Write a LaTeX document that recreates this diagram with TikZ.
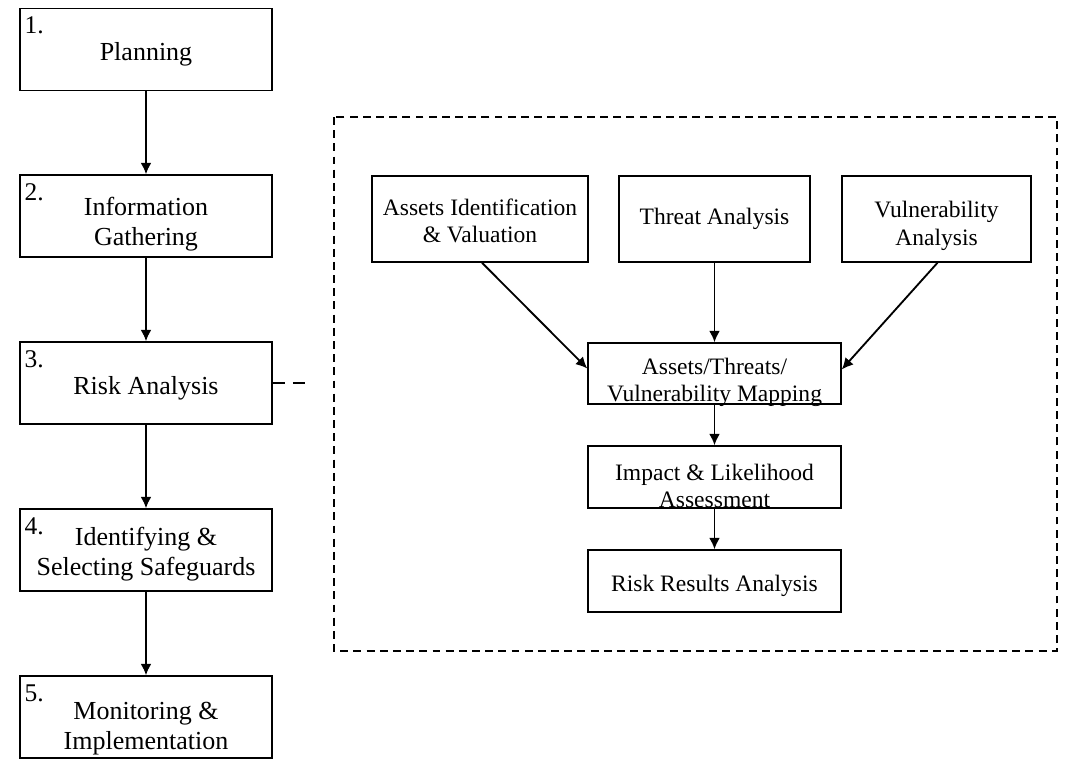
\documentclass[tikz,border=0pt]{standalone}
\usepackage{fontspec}
\setmainfont{Liberation Serif}
\usetikzlibrary{arrows.meta}

\newcommand{\sink}[1]{\rule{0pt}{#1}}

\tikzset{
  stage/.style={draw, line width=0.85pt, minimum width=5.04cm, minimum height=1.64cm,
    inner sep=0pt, align=center, font=\fontsize{14.8}{17}\selectfont},
  task/.style={draw, line width=0.85pt, inner sep=0pt, align=center,
    font=\fontsize{13.4}{15.4}\selectfont},
  tasktext/.style={inner sep=0pt, align=center, yshift=-0.18cm,
    font=\fontsize{13.4}{15.4}\selectfont},
  stepnum/.style={anchor=north west, inner sep=0pt, font=\fontsize{14.5}{16}\selectfont},
  flow/.style={line width=1.05pt, -{Latex[length=2.3mm,width=2.2mm]}},
}

\begin{document}
\begin{tikzpicture}[x=0.02cm, y=-0.02cm]
  \useasboundingbox (0,0) rectangle (1077,771);

  % stages on the left
  \node[stage] (plan) at (146,49.5) {\sink{15.8pt}Planning};
  \node[stage] (info) at (146,216) {\sink{19.2pt}Information\\Gathering};
  \node[stage] (risk) at (146,383) {\sink{15.8pt}Risk Analysis};
  \node[stage] (safe) at (146,550) {\sink{15.2pt}Identifying \&\\Selecting Safeguards};
  \node[stage] (moni) at (146,717) {\sink{23.4pt}Monitoring \&\\Implementation};
  \foreach \s/\n in {plan/1, info/2, risk/3, safe/4, moni/5}
    \node[stepnum] at ([xshift=0.1cm,yshift=-0.18cm]\s.north west) {\n.};
  \draw[flow] (plan) -- (info);
  \draw[flow] (info) -- (risk);
  \draw[flow] (risk) -- (safe);
  \draw[flow] (safe) -- (moni);

  % risk analysis detail
  \draw[line width=0.9pt, dash pattern=on 4.5pt off 3pt] (334,117) rectangle (1057,651);
  \coordinate (tail) at (307,383);
  \draw[line width=0.7pt, dash pattern=on 7pt off 4.5pt] (risk.east) -- (tail);

  \node[task, minimum width=4.32cm, minimum height=1.72cm] (asset) at (480,219) {\sink{11.4pt}Assets Identification\\\& Valuation};
  \node[task, minimum width=3.82cm, minimum height=1.72cm] (threat) at (714.5,219) {Threat Analysis};
  \node[task, minimum width=3.78cm, minimum height=1.72cm] (vuln) at (936.5,219) {\sink{17.1pt}Vulnerability\\Analysis};
  \node[task, minimum width=5.06cm, minimum height=1.22cm,
    label={[tasktext]center:{Assets/Threats/\\Vulnerability Mapping}}] (map) at (714.5,373.5) {};
  \node[task, minimum width=5.06cm, minimum height=1.24cm,
    label={[tasktext]center:{Impact \& Likelihood\\Assessment}}] (impact) at (714.5,477) {};
  \node[task, minimum width=5.06cm, minimum height=1.24cm] (result) at (714.5,581) {\sink{14.9pt}Risk Results Analysis};

  \draw[flow] ([xshift=0.04cm]asset.south) -- ([yshift=0.1cm]map.west);
  \draw[flow] (threat) -- (map);
  \draw[flow] ([xshift=0.02cm]vuln.south) -- ([yshift=0.08cm]map.east);
  \draw[flow] (map) -- (impact);
  \draw[flow] (impact) -- (result);
\end{tikzpicture}
\end{document}
